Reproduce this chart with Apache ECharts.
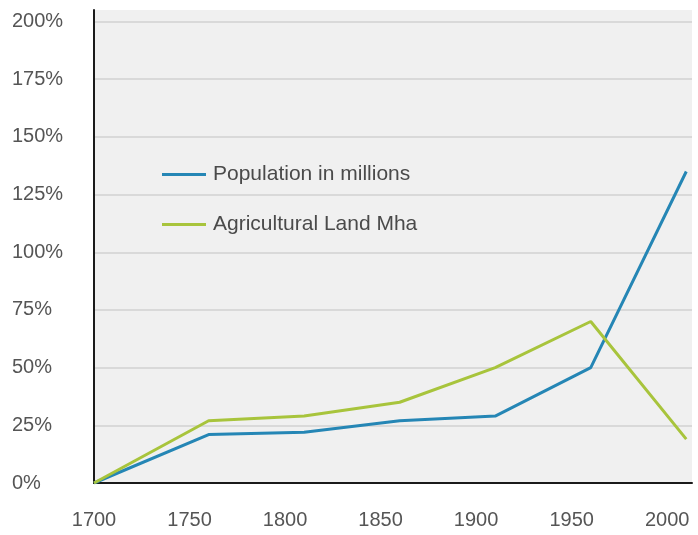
<!DOCTYPE html>
<html>
<head>
<meta charset="utf-8">
<script src="https://cdn.jsdelivr.net/npm/echarts@6/dist/echarts.min.js"></script>
<style>
  html, body { margin: 0; padding: 0; background: #fff; }
  #chart { width: 698px; height: 535px; }
</style>
</head>
<body>
<div id="chart"></div>
<script>
// data (percent change vs 1700)
const years = [1700, 1760, 1810, 1860, 1910, 1960, 2010];
const population = [0, 21, 22, 27, 29, 50, 135];
const agriLand = [0, 27, 29, 35, 50, 70, 19];
const seriesNames = ['Population in millions', 'Agricultural Land Mha'];

const chart = echarts.init(document.getElementById('chart'));
const font = 'Liberation Sans, Arial, sans-serif';

const toPairs = (vals) => years.map((y, i) => [y, vals[i]]);

chart.setOption({
  animation: false,
  grid: {
    left: 94, right: 6, top: 10, bottom: 52,
    show: true, backgroundColor: '#f0f0f0', borderWidth: 0
  },
  legend: {
    orient: 'vertical',
    left: 157,
    top: 159,
    itemWidth: 44,
    itemHeight: 3,
    itemGap: 29,
    icon: 'rect',
    textStyle: {color: '#4a4a4a', fontSize: 21, fontFamily: font, padding: [0, 0, 0, 2]},
    data: seriesNames
  },
  xAxis: {
    type: 'value',
    min: 1700,
    max: 2013,
    interval: 50,
    axisLine: {show: true, onZero: false, lineStyle: {color: '#1a1a1a', width: 2}},
    axisTick: {show: false},
    splitLine: {show: false},
    axisLabel: {
      color: '#555555', fontSize: 20, fontFamily: font, margin: 27,
      showMaxLabel: false,
      formatter: (v) => String(v)
    }
  },
  yAxis: {
    type: 'value',
    min: 0,
    max: 205,
    interval: 25,
    axisLine: {show: true, lineStyle: {color: '#1a1a1a', width: 2}},
    axisTick: {show: false},
    splitLine: {show: true, showMaxLine: false, showMinLine: false, lineStyle: {color: '#d9d9d9', width: 2}},
    axisLabel: {
      color: '#555555', fontSize: 20, fontFamily: font,
      align: 'left', margin: 82,
      showMaxLabel: false,
      formatter: (v) => (v % 25 === 0 ? v + '%' : '')
    }
  },
  series: [
    {
      name: seriesNames[0],
      type: 'line',
      data: toPairs(population),
      symbol: 'none',
      itemStyle: {color: '#2586b5'},
      lineStyle: {color: '#2586b5', width: 3}
    },
    {
      name: seriesNames[1],
      type: 'line',
      data: toPairs(agriLand),
      symbol: 'none',
      itemStyle: {color: '#a8c43c'},
      lineStyle: {color: '#a8c43c', width: 3}
    }
  ]
});
</script>
</body>
</html>
